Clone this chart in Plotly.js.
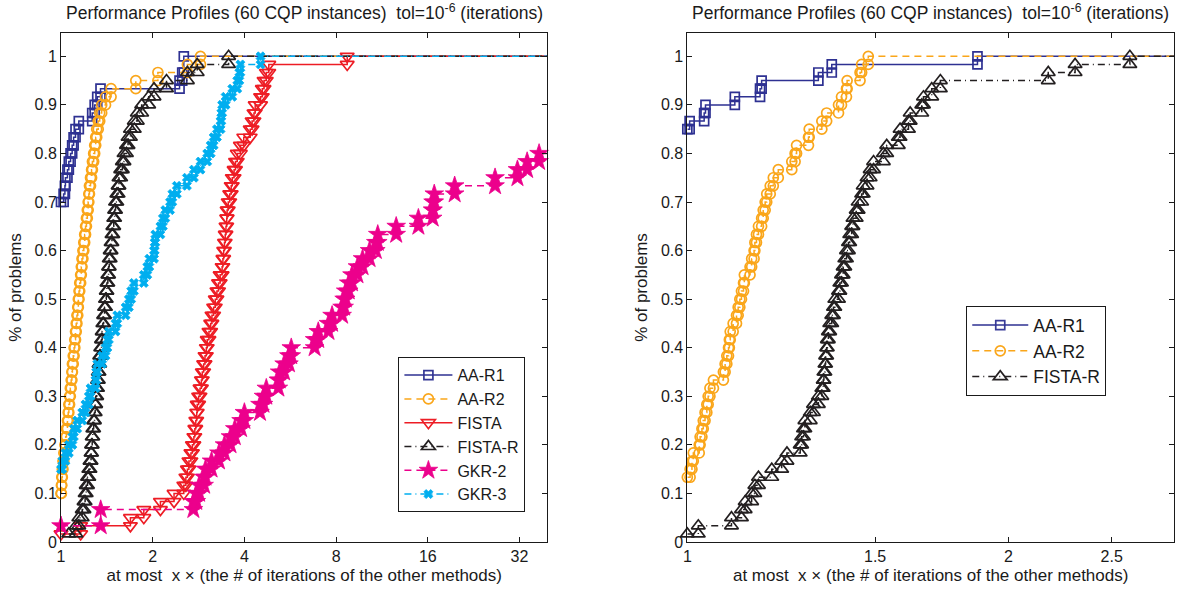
<!DOCTYPE html>
<html>
<head>
<meta charset="utf-8">
<script src="https://cdn.plot.ly/plotly-3.0.1.min.js"></script>
<style>
  html, body { margin: 0; padding: 0; background: #fff; }
  #chart { width: 1177px; height: 592px; }
</style>
</head>
<body>
<div id="chart"></div>
<script>
// Performance profiles: for each solver, the ratio tau at which the number of
// solved problems (out of 60) steps up, and the solved count reached there.
const nProblems = 60;

const leftTicks = [1, 2, 4, 8, 16, 32];
const rightTicks = [1, 1.5, 2, 2.5];
const probTicks = [0, 0.1, 0.2, 0.3, 0.4, 0.5, 0.6, 0.7, 0.8, 0.9, 1];

// ---- left panel: all six solvers ----
const aaR1Tau   = [1.0, 1.02, 1.03, 1.034, 1.05, 1.061, 1.075, 1.088, 1.1, 1.116, 1.144, 1.266, 1.29, 1.315, 1.348, 2.45, 2.5, 2.53];
const aaR1Count = [42, 43, 44, 45, 46, 47, 48, 49, 50, 51, 52, 53, 54, 55, 56, 57, 58, 60];

const aaR2Tau   = [1.0, 1.003, 1.006, 1.01, 1.015, 1.022, 1.03, 1.036, 1.042, 1.05, 1.056, 1.061, 1.067, 1.073, 1.08, 1.086, 1.09, 1.097, 1.104, 1.11, 1.116, 1.122, 1.128, 1.135, 1.14, 1.146, 1.152, 1.16, 1.166, 1.172, 1.18, 1.188, 1.196, 1.204, 1.212, 1.22, 1.228, 1.234, 1.24, 1.25, 1.26, 1.268, 1.28, 1.29, 1.3, 1.31, 1.325, 1.34, 1.36, 1.4, 1.46, 1.76, 2.08, 2.6, 2.87];
const aaR2Count = [6, 7, 8, 9, 10, 11, 12, 13, 14, 15, 16, 17, 18, 19, 20, 21, 22, 23, 24, 25, 26, 27, 28, 29, 30, 31, 32, 33, 34, 35, 36, 37, 38, 39, 40, 41, 42, 43, 44, 45, 46, 47, 48, 49, 50, 51, 52, 53, 54, 55, 56, 57, 58, 59, 60];

const fistaTau   = [1.0, 1.16, 1.69, 1.87, 2.12, 2.35, 2.53, 2.57, 2.6, 2.63, 2.67, 2.7, 2.73, 2.75, 2.77, 2.79, 2.8, 2.83, 2.86, 2.89, 2.91, 2.94, 2.97, 3.0, 3.02, 3.06, 3.1, 3.13, 3.17, 3.21, 3.25, 3.29, 3.33, 3.38, 3.4, 3.42, 3.44, 3.46, 3.48, 3.5, 3.51, 3.54, 3.58, 3.62, 3.65, 3.7, 3.74, 3.79, 3.88, 3.98, 4.18, 4.24, 4.3, 4.34, 4.52, 4.58, 4.64, 4.72, 4.81, 8.7];
const fistaCount = [1, 2, 3, 4, 5, 6, 7, 8, 9, 10, 11, 12, 13, 14, 15, 16, 17, 18, 19, 20, 21, 22, 23, 24, 25, 26, 27, 28, 29, 30, 31, 32, 33, 34, 35, 36, 37, 38, 39, 40, 41, 42, 43, 44, 45, 46, 47, 48, 49, 50, 51, 52, 53, 54, 55, 56, 57, 58, 59, 60];

const fistaRTau   = [1.06, 1.12, 1.144, 1.174, 1.19, 1.2, 1.21, 1.222, 1.234, 1.245, 1.255, 1.26, 1.266, 1.272, 1.28, 1.288, 1.295, 1.3, 1.31, 1.318, 1.326, 1.333, 1.34, 1.35, 1.358, 1.365, 1.372, 1.38, 1.39, 1.4, 1.408, 1.415, 1.425, 1.433, 1.44, 1.45, 1.46, 1.47, 1.48, 1.49, 1.5, 1.51, 1.525, 1.54, 1.55, 1.57, 1.59, 1.61, 1.64, 1.66, 1.69, 1.74, 1.78, 1.84, 1.94, 2.02, 2.22, 2.6, 2.8, 3.55];
const fistaRCount = [1, 2, 3, 4, 5, 6, 7, 8, 9, 10, 11, 12, 13, 14, 15, 16, 17, 18, 19, 20, 21, 22, 23, 24, 25, 26, 27, 28, 29, 30, 31, 32, 33, 34, 35, 36, 37, 38, 39, 40, 41, 42, 43, 44, 45, 46, 47, 48, 49, 50, 51, 52, 53, 54, 55, 56, 57, 58, 59, 60];

const gkr2Tau   = [1.0, 1.35, 2.72, 2.78, 2.84, 2.95, 2.98, 3.12, 3.3, 3.44, 3.6, 3.72, 3.9, 4.0, 4.5, 4.62, 4.72, 5.17, 5.22, 5.4, 5.6, 5.7, 6.8, 6.99, 7.55, 7.76, 8.37, 8.5, 8.6, 8.8, 9.02, 9.4, 9.77, 10.3, 10.8, 10.96, 12.6, 14.9, 16.6, 16.65, 16.8, 19.6, 26.6, 31.5, 33.9, 37.1];
const gkr2Count = [2, 4, 5, 6, 7, 8, 9, 10, 11, 12, 13, 14, 15, 16, 17, 18, 19, 20, 21, 22, 23, 24, 25, 26, 27, 28, 29, 30, 31, 32, 33, 34, 35, 36, 37, 38, 39, 40, 41, 42, 43, 44, 45, 46, 47, 48];

const gkr3Tau   = [1.0, 1.01, 1.034, 1.061, 1.09, 1.102, 1.13, 1.174, 1.203, 1.234, 1.25, 1.298, 1.305, 1.315, 1.365, 1.4, 1.42, 1.436, 1.51, 1.53, 1.63, 1.67, 1.7, 1.735, 1.87, 1.92, 1.95, 2.02, 2.03, 2.04, 2.12, 2.16, 2.2, 2.28, 2.32, 2.4, 2.59, 2.73, 2.87, 3.02, 3.1, 3.17, 3.25, 3.34, 3.36, 3.38, 3.47, 3.65, 3.79, 3.85, 3.88, 4.52];
const gkr3Count = [9, 10, 11, 12, 13, 14, 15, 16, 17, 18, 19, 20, 21, 22, 23, 24, 25, 26, 27, 28, 29, 30, 31, 32, 33, 34, 35, 36, 37, 38, 39, 40, 41, 42, 43, 44, 45, 46, 47, 48, 49, 50, 51, 52, 53, 54, 55, 56, 57, 58, 59, 60];

// ---- right panel: AA-R1, AA-R2, FISTA-R ----
const rAaR1Tau   = [1.0, 1.005, 1.037, 1.04, 1.108, 1.17, 1.174, 1.327, 1.366, 1.871];
const rAaR1Count = [51, 52, 53, 54, 55, 56, 57, 58, 59, 60];

const rAaR2Tau   = [1.0, 1.006, 1.01, 1.013, 1.026, 1.028, 1.032, 1.035, 1.039, 1.043, 1.046, 1.05, 1.058, 1.081, 1.085, 1.089, 1.093, 1.095, 1.097, 1.104, 1.112, 1.116, 1.12, 1.124, 1.129, 1.131, 1.145, 1.149, 1.155, 1.157, 1.161, 1.166, 1.174, 1.178, 1.183, 1.187, 1.196, 1.204, 1.217, 1.253, 1.262, 1.266, 1.299, 1.301, 1.337, 1.351, 1.386, 1.395, 1.41, 1.412, 1.452, 1.457, 1.478];
const rAaR2Count = [8, 9, 10, 11, 12, 13, 14, 15, 16, 17, 18, 19, 20, 21, 22, 23, 24, 25, 26, 27, 28, 29, 30, 31, 32, 33, 34, 35, 36, 37, 38, 39, 40, 41, 42, 43, 44, 45, 46, 47, 48, 49, 50, 51, 52, 53, 54, 55, 56, 57, 58, 59, 60];

const rFistaRTau   = [1.0, 1.024, 1.1, 1.124, 1.133, 1.149, 1.157, 1.166, 1.2, 1.226, 1.24, 1.276, 1.28, 1.285, 1.289, 1.304, 1.313, 1.327, 1.337, 1.341, 1.343, 1.346, 1.348, 1.351, 1.353, 1.356, 1.36, 1.366, 1.371, 1.375, 1.386, 1.39, 1.395, 1.4, 1.405, 1.41, 1.416, 1.42, 1.426, 1.43, 1.44, 1.446, 1.457, 1.462, 1.474, 1.484, 1.495, 1.527, 1.538, 1.577, 1.583, 1.612, 1.618, 1.659, 1.665, 1.695, 1.727, 2.18, 2.31, 2.6];
const rFistaRCount = [1, 2, 3, 4, 5, 6, 7, 8, 9, 10, 11, 12, 13, 14, 15, 16, 17, 18, 19, 20, 21, 22, 23, 24, 25, 26, 27, 28, 29, 30, 31, 32, 33, 34, 35, 36, 37, 38, 39, 40, 41, 42, 43, 44, 45, 46, 47, 48, 49, 50, 51, 52, 53, 54, 55, 56, 57, 58, 59, 60];

const leftTauMax = 39.5;
const rightTauMax = 2.86;

// solver styles
const styles = {
  'AA-R1':   { color: '#2E3192', dash: 'solid',            symbol: 'square-open',        size: 9 },
  'AA-R2':   { color: '#FAA61A', dash: '7px,5px',          symbol: 'circle-open',        size: 10 },
  'FISTA':   { color: '#ED1C24', dash: 'solid',            symbol: 'triangle-down-open', size: 12 },
  'FISTA-R': { color: '#231F20', dash: '7px,4px,1px,4px',  symbol: 'triangle-up-open',   size: 12 },
  'GKR-2':   { color: '#EC008C', dash: '7px,5px',          symbol: 'star',               size: 14 },
  'GKR-3':   { color: '#00AEEF', dash: '7px,4px,1px,4px',  symbol: 'x',                  size: 8 }
};

// stair-step profile with a marker on every corner; the line runs on to the axis end
function profileTrace(name, tau, count, tauEnd, xa, ya, legendId) {
  const xs = [tau[0]], ys = [count[0] / nProblems];
  for (let i = 1; i < tau.length; i++) {
    xs.push(tau[i]); ys.push(count[i - 1] / nProblems);
    xs.push(tau[i]); ys.push(count[i] / nProblems);
  }
  xs.push(tauEnd); ys.push(count[count.length - 1] / nProblems);
  const op = xs.map((_, i) => (i === xs.length - 1 ? 0 : 1));
  const s = styles[name];
  const filled = s.symbol === 'star' || s.symbol === 'x';
  return {
    type: 'scatter', mode: 'lines+markers', name: name,
    x: xs, y: ys, xaxis: xa, yaxis: ya, legend: legendId,
    cliponaxis: false,
    line: { color: s.color, width: 1.5, dash: s.dash },
    marker: {
      symbol: s.symbol, size: s.size, color: s.color, opacity: op,
      line: { color: s.color, width: filled ? 0.8 : 1.7 }
    },
    hoverinfo: 'x+y'
  };
}

const traces = [
  profileTrace('AA-R1', aaR1Tau, aaR1Count, leftTauMax + 5, 'x', 'y', 'legend'),
  profileTrace('AA-R2', aaR2Tau, aaR2Count, leftTauMax + 5, 'x', 'y', 'legend'),
  profileTrace('FISTA', fistaTau, fistaCount, leftTauMax + 5, 'x', 'y', 'legend'),
  profileTrace('FISTA-R', fistaRTau, fistaRCount, leftTauMax + 5, 'x', 'y', 'legend'),
  profileTrace('GKR-2', gkr2Tau, gkr2Count, leftTauMax + 5, 'x', 'y', 'legend'),
  profileTrace('GKR-3', gkr3Tau, gkr3Count, leftTauMax + 5, 'x', 'y', 'legend'),
  profileTrace('AA-R1', rAaR1Tau, rAaR1Count, rightTauMax + 0.2, 'x2', 'y2', 'legend2'),
  profileTrace('AA-R2', rAaR2Tau, rAaR2Count, rightTauMax + 0.2, 'x2', 'y2', 'legend2'),
  profileTrace('FISTA-R', rFistaRTau, rFistaRCount, rightTauMax + 0.2, 'x2', 'y2', 'legend2')
];

const family = 'Liberation Sans, Arial, Helvetica, sans-serif';
const ink = '#1a1a1a';
const tickFont = { family: family, size: 16, color: ink };
const labelFont = { family: family, size: 17, color: ink };

const axisBase = {
  showline: true, linecolor: ink, linewidth: 1, mirror: 'ticks',
  ticks: 'inside', ticklen: 5, tickwidth: 1, tickcolor: ink,
  showgrid: false, zeroline: false, fixedrange: true,
  tickfont: tickFont
};
const xTitleText = 'at most\u00a0\u00a0x \u00d7 (the # of iterations of the other methods)';
const yTitle = { text: '% of problems', font: labelFont, standoff: 8 };
const panelTitle = 'Performance Profiles (60 CQP instances)\u00a0 tol=10<sup>-6</sup> (iterations)';

const margin = { l: 60.5, r: 3.2, t: 32.5, b: 50 };
const plotW = 1177 - margin.l - margin.r;
const plotH = 592 - margin.t - margin.b;
const panelW = 486.5;
const leftDomain = [0, panelW / plotW];
const rightDomain = [(687 - margin.l) / plotW, 1];

const layout = {
  width: 1177, height: 592,
  margin: margin,
  paper_bgcolor: '#ffffff', plot_bgcolor: '#ffffff',
  font: tickFont,
  showlegend: true,
  xaxis: Object.assign({}, axisBase, {
    type: 'log', domain: leftDomain, range: [0, Math.log10(leftTauMax)],
    tickvals: leftTicks, ticktext: leftTicks.map(String),
    title: { text: xTitleText, font: labelFont, standoff: 4 }, anchor: 'y'
  }),
  yaxis: Object.assign({}, axisBase, {
    range: [0, 1.048], tickvals: probTicks, ticktext: probTicks.map(String),
    title: yTitle, anchor: 'x'
  }),
  xaxis2: Object.assign({}, axisBase, {
    type: 'log', domain: rightDomain, range: [0, Math.log10(rightTauMax)],
    tickvals: rightTicks, ticktext: rightTicks.map(String),
    title: { text: xTitleText, font: labelFont, standoff: 4 }, anchor: 'y2'
  }),
  yaxis2: Object.assign({}, axisBase, {
    range: [0, 1.048], tickvals: probTicks, ticktext: probTicks.map(String),
    title: yTitle, anchor: 'x2'
  }),
  legend: {
    x: (398 - margin.l) / plotW, y: (542 - 357) / plotH, xanchor: 'left', yanchor: 'top',
    bgcolor: '#ffffff', bordercolor: ink, borderwidth: 1,
    font: { family: family, size: 16, color: ink },
    itemwidth: 48, tracegroupgap: 0, itemclick: false, itemdoubleclick: false
  },
  legend2: {
    x: (966 - margin.l) / plotW, y: (542 - 306) / plotH, xanchor: 'left', yanchor: 'top',
    bgcolor: '#ffffff', bordercolor: ink, borderwidth: 1,
    font: { family: family, size: 17.5, color: ink },
    itemwidth: 56, tracegroupgap: 0, itemclick: false, itemdoubleclick: false
  },
  annotations: [
    {
      xref: 'paper', yref: 'paper', x: leftDomain[1] / 2, y: 1, yshift: 21,
      xanchor: 'center', yanchor: 'middle', showarrow: false,
      text: panelTitle, font: { family: family, size: 17.5, color: ink }
    },
    {
      xref: 'paper', yref: 'paper', x: (rightDomain[0] + rightDomain[1]) / 2, y: 1, yshift: 21,
      xanchor: 'center', yanchor: 'middle', showarrow: false,
      text: panelTitle, font: { family: family, size: 17.5, color: ink }
    }
  ]
};

Plotly.newPlot('chart', traces, layout, { displayModeBar: false, staticPlot: true });
</script>
</body>
</html>
